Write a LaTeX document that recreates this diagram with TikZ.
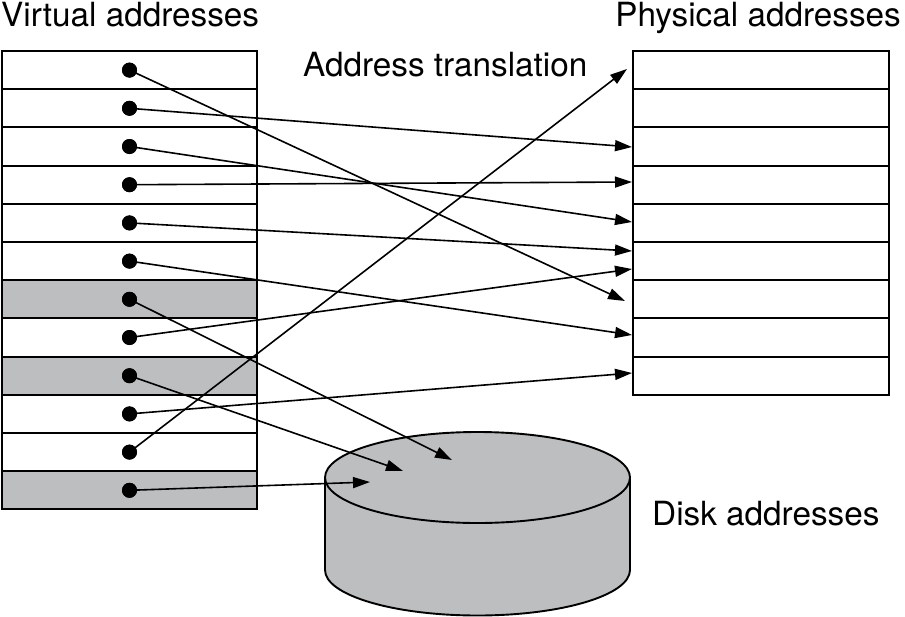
\documentclass[tikz,border=0pt]{standalone}
\usepackage{fontspec}
\setmainfont{TeX Gyre Heros}
\usetikzlibrary{arrows.meta}
\definecolor{diskgray}{HTML}{BCBEC0}
\begin{document}
\begin{tikzpicture}[x=1pt,y=-1pt,
  vrow/.style={draw,line width=1.9pt,minimum width=255pt,minimum height=38.2pt,inner sep=0pt,outer sep=0pt},
  grayrow/.style={vrow,fill=diskgray},
  prow/.style={draw,line width=1.9pt,minimum width=256pt,minimum height=38.2pt,inner sep=0pt,outer sep=0pt},
  dot/.style={circle,fill=black,minimum size=15pt,inner sep=0pt},
  map/.style={line width=1.6pt,-{Triangle[length=17pt,width=11pt]}},
  lbl/.style={inner sep=0pt,font=\fontsize{33.3}{40}\selectfont}]
\useasboundingbox (0,0) rectangle (905,616);
% texts
\node[lbl,anchor=base west] (tv) at (1,26) {Virtual addresses};
\node[lbl,anchor=base east] (tp) at (901,26) {Physical addresses};
\node[lbl,anchor=base west] (ta) at (303,76) {Address translation};
\node[lbl,anchor=base west] (td) at (652,525) {Disk addresses};
% virtual table
\foreach \i/\st in {1/vrow,2/vrow,3/vrow,4/vrow,5/vrow,6/vrow,7/grayrow,8/vrow,9/grayrow,10/vrow,11/vrow,12/grayrow}{
  \node[\st] (v\i) at (129.5,{51+38.2*(\i-0.5)}) {};
}
% physical table
\foreach \i in {1,...,9}{
  \node[prow] (p\i) at (761,{51+38.2*(\i-0.5)}) {};
}
% disk
\coordinate (disk) at (477.5,477.5);
\filldraw[fill=diskgray,line width=1.9pt] (477.5,570) ellipse [x radius=152.5,y radius=45.5];
\fill[diskgray] (325,477.5) rectangle (630,570);
\draw[line width=1.9pt] (325,477.5) -- (325,570) (630,477.5) -- (630,570);
\filldraw[fill=diskgray,line width=1.9pt] (disk) ellipse [x radius=152.5,y radius=45.5];
% arrow targets
\coordinate (t1) at (625,301);
\coordinate (t2) at (632,147);
\coordinate (t3) at (632,222);
\coordinate (t4) at (632,182);
\coordinate (t5) at (632,251);
\coordinate (t6) at (632,335);
\coordinate (t7) at (452,460);
\coordinate (t8) at (632,269);
\coordinate (t9) at (403,471);
\coordinate (t10) at (632,373);
\coordinate (t11) at (627,69);
\coordinate (t12) at (370,482);
% dots and arrows
\foreach \i in {1,...,12}{
  \node[dot] (d\i) at (v\i.center) {};
  \draw[map] (d\i.center) -- (t\i);
  \node[dot] at (v\i.center) {};
}
\end{tikzpicture}
\end{document}
